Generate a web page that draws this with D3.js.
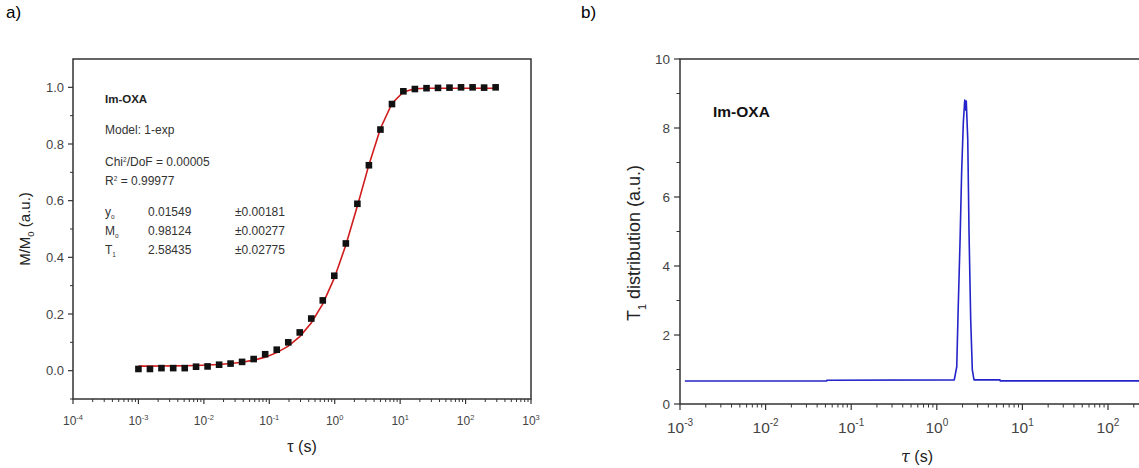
<!DOCTYPE html>
<html>
<head>
<meta charset="utf-8">
<script src="https://cdn.jsdelivr.net/npm/d3@7"></script>
<style>
  html, body { margin: 0; padding: 0; background: #fff; }
  svg { display: block; font-family: Arial, "Liberation Sans", sans-serif; }
</style>
</head>
<body>
<svg id="fig" width="1139" height="468"></svg>
<script>
// ---- panel a: saturation-recovery data and 1-exp fit ----
const recTau = [0.001, 0.0015, 0.00225, 0.0034, 0.0051, 0.0076, 0.0114, 0.0171, 0.0256, 0.0384,
                0.0577, 0.0865, 0.130, 0.195, 0.292, 0.438, 0.657, 0.985, 1.48, 2.22,
                3.33, 5.00, 7.50, 11.2, 16.8, 25.3, 37.9, 56.8, 85.2, 128, 192, 288];
const recMag = [0.006, 0.006, 0.009, 0.009, 0.009, 0.014, 0.015, 0.021, 0.025, 0.031,
                0.041, 0.058, 0.074, 0.100, 0.135, 0.184, 0.248, 0.335, 0.449, 0.589,
                0.725, 0.851, 0.941, 0.986, 0.994, 0.997, 0.998, 0.999, 1.000, 1.000, 0.999, 1.000];
// fitted parameters (as reported in the panel)
const fitNames  = ["y", "M", "T"];
const fitSubs   = ["o", "o", "1"];
const fitValues = [0.01549, 0.98124, 2.58435];
const fitErrors = ["±0.00181", "±0.00277", "±0.02775"];
const fitChi2 = "0.00005";
const fitR2 = "0.99977";

// ---- panel b: T1 distribution ----
const distTau = [0.00114, 0.0518, 0.0519, 1.60, 1.71, 1.78, 1.87, 1.95, 2.04, 2.12, 2.18, 2.21,
                 2.30, 2.38, 2.49, 2.60, 2.72, 5.47, 5.50, 1000];
const distVal = [0.667, 0.667, 0.69, 0.70, 1.08, 2.82, 4.75, 6.70, 8.14, 8.81, 8.52, 8.78,
                 7.65, 4.96, 2.43, 0.99, 0.70, 0.70, 0.67, 0.67];

// axis ticks
const aXTicks = [-4, -3, -2, -1, 0, 1, 2, 3];
const aYTicks = [0.0, 0.2, 0.4, 0.6, 0.8, 1.0];
const bXTicks = [-3, -2, -1, 0, 1, 2, 3];
const bYTicks = [0, 2, 4, 6, 8, 10];

const W = 1139;
const svg = d3.select("#fig");
const axisColor = "#333";
const labelColor = "#444";

function minorDecades(lo, hi) {
  const out = [];
  for (let e = lo; e < hi; e++) for (let m = 2; m <= 9; m++) out.push(m * Math.pow(10, e));
  return out;
}

function logTickLabel(sel, x, y, exp, size, supSize) {
  const t = sel.append("text").attr("x", x).attr("y", y)
    .attr("text-anchor", "middle").attr("fill", labelColor).attr("font-size", size);
  t.append("tspan").text("10");
  t.append("tspan").attr("dy", -size * 0.42).attr("font-size", supSize).text(exp < 0 ? "-" + (-exp) : String(exp));
}

// ================= panel a =================
{
  const L = 73, R = 531, T = 59, B = 399;
  const x = d3.scaleLog().domain([1e-4, 1e3]).range([L, R]);
  const y = d3.scaleLinear().domain([-0.1, 1.1]).range([B, T]);
  const g = svg.append("g");

  svg.append("text").attr("x", 6).attr("y", 18).attr("font-size", 17).attr("fill", "#000").text("a)");

  // x ticks
  const xg = g.append("g");
  xg.selectAll("line.maj").data(aXTicks).join("line")
    .attr("x1", d => x(Math.pow(10, d))).attr("x2", d => x(Math.pow(10, d)))
    .attr("y1", B).attr("y2", B + 5).attr("stroke", axisColor).attr("stroke-width", 1.2);
  xg.selectAll("line.min").data(minorDecades(-4, 3)).join("line")
    .attr("x1", d => x(d)).attr("x2", d => x(d))
    .attr("y1", B).attr("y2", B + 3).attr("stroke", axisColor).attr("stroke-width", 1);
  aXTicks.forEach(e => logTickLabel(xg, x(Math.pow(10, e)), 425, e, 12, 7.5));

  // y ticks
  const yg = g.append("g");
  yg.selectAll("line.maj").data(aYTicks).join("line")
    .attr("x1", L - 5).attr("x2", L).attr("y1", d => y(d)).attr("y2", d => y(d))
    .attr("stroke", axisColor).attr("stroke-width", 1.2);
  yg.selectAll("line.min").data([-0.1, 0.1, 0.3, 0.5, 0.7, 0.9]).join("line")
    .attr("x1", L - 3).attr("x2", L).attr("y1", d => y(d)).attr("y2", d => y(d))
    .attr("stroke", axisColor).attr("stroke-width", 1);
  yg.selectAll("text").data(aYTicks).join("text")
    .attr("x", L - 9).attr("y", d => y(d) + 4.5).attr("text-anchor", "end")
    .attr("font-size", 13).attr("fill", labelColor).text(d => d.toFixed(1));

  // fit curve evaluated at the measured delays
  const [y0, M0, T1] = fitValues;
  const fitLine = d3.line().x(d => x(d)).y(d => y(y0 + M0 * (1 - Math.exp(-d / T1))));
  g.append("path").datum(recTau).attr("d", fitLine)
    .attr("fill", "none").attr("stroke", "#d01c1c").attr("stroke-width", 1.6);

  // data squares
  g.selectAll("rect.pt").data(recTau).join("rect")
    .attr("x", d => x(d) - 3.3).attr("y", (d, i) => y(recMag[i]) - 3.3)
    .attr("width", 6.6).attr("height", 6.6).attr("fill", "#111");

  // frame
  g.append("rect").attr("x", L).attr("y", T).attr("width", R - L).attr("height", B - T)
    .attr("fill", "none").attr("stroke", axisColor).attr("stroke-width", 1.5);

  // axis titles
  const yl = g.append("text").attr("transform", `translate(30,${(T + B) / 2}) rotate(-90)`)
    .attr("text-anchor", "middle").attr("font-size", 15).attr("fill", "#222");
  yl.append("tspan").text("M/M");
  yl.append("tspan").attr("dy", 4).attr("font-size", 9.5).text("0");
  yl.append("tspan").attr("dy", -4).text(" (a.u.)");

  g.append("text").attr("x", 302).attr("y", 452).attr("text-anchor", "middle")
    .attr("font-size", 16).attr("fill", "#222").text("τ (s)");

  // fit report
  const tx = 105, fs = 12, tc = "#333";
  g.append("text").attr("x", tx).attr("y", 103).attr("font-size", 11.5).attr("font-weight", "bold")
    .attr("fill", "#222").text("Im-OXA");
  g.append("text").attr("x", tx).attr("y", 134).attr("font-size", fs).attr("fill", tc).text("Model: 1-exp");
  const c = g.append("text").attr("x", tx).attr("y", 166).attr("font-size", fs).attr("fill", tc);
  c.append("tspan").text("Chi");
  c.append("tspan").attr("dy", -4).attr("font-size", 6.5).text("2");
  c.append("tspan").attr("dy", 4).text("/DoF = " + fitChi2);
  const r = g.append("text").attr("x", tx).attr("y", 185).attr("font-size", fs).attr("fill", tc);
  r.append("tspan").text("R");
  r.append("tspan").attr("dy", -4).attr("font-size", 6.5).text("2");
  r.append("tspan").attr("dy", 4).text(" =  " + fitR2);
  const rowY = [216, 235, 254];
  fitNames.forEach((n, i) => {
    const t = g.append("text").attr("x", tx).attr("y", rowY[i]).attr("font-size", fs).attr("fill", tc);
    t.append("tspan").text(n);
    t.append("tspan").attr("dy", 3).attr("font-size", 6.5).text(fitSubs[i]);
    g.append("text").attr("x", 148).attr("y", rowY[i]).attr("font-size", fs).attr("fill", tc)
      .text(fitValues[i].toFixed(5));
    g.append("text").attr("x", 235).attr("y", rowY[i]).attr("font-size", fs).attr("fill", tc)
      .text(fitErrors[i]);
  });
}

// ================= panel b =================
{
  const L = 680, T = 59, B = 404;
  const x = d3.scaleLog().domain([1e-3, 1e3]).range([L, L + 6 * 85.6]);
  const y = d3.scaleLinear().domain([0, 10]).range([B, T]);
  const R = x(1e3);
  const g = svg.append("g");

  svg.append("text").attr("x", 581).attr("y", 18).attr("font-size", 17).attr("fill", "#000").text("b)");

  const xg = g.append("g");
  xg.selectAll("line.maj").data(bXTicks).join("line")
    .attr("x1", d => x(Math.pow(10, d))).attr("x2", d => x(Math.pow(10, d)))
    .attr("y1", B).attr("y2", B + 6).attr("stroke", axisColor).attr("stroke-width", 1.2);
  xg.selectAll("line.min").data(minorDecades(-3, 3)).join("line")
    .attr("x1", d => x(d)).attr("x2", d => x(d))
    .attr("y1", B).attr("y2", B + 3.5).attr("stroke", axisColor).attr("stroke-width", 1);
  // only the labels that fall inside the page
  bXTicks.filter(e => x(Math.pow(10, e)) + 20 < W)
    .forEach(e => logTickLabel(xg, x(Math.pow(10, e)), 433, e, 15.5, 10));

  const yg = g.append("g");
  yg.selectAll("line.maj").data(bYTicks).join("line")
    .attr("x1", L - 6).attr("x2", L).attr("y1", d => y(d)).attr("y2", d => y(d))
    .attr("stroke", axisColor).attr("stroke-width", 1.2);
  yg.selectAll("line.min").data([1, 3, 5, 7, 9]).join("line")
    .attr("x1", L - 3.5).attr("x2", L).attr("y1", d => y(d)).attr("y2", d => y(d))
    .attr("stroke", axisColor).attr("stroke-width", 1);
  yg.selectAll("text").data(bYTicks).join("text")
    .attr("x", L - 10).attr("y", d => y(d) + 5).attr("text-anchor", "end")
    .attr("font-size", 13.5).attr("fill", labelColor).text(d => d);

  svg.append("clipPath").attr("id", "bclip").append("rect")
    .attr("x", L).attr("y", T).attr("width", R - L).attr("height", B - T);
  const line = d3.line().x(d => x(d[0])).y(d => y(d[1]));
  g.append("path").datum(distTau.map((t, i) => [t, distVal[i]]))
    .attr("clip-path", "url(#bclip)").attr("d", line)
    .attr("fill", "none").attr("stroke", "#2424c8").attr("stroke-width", 1.6)
    .attr("stroke-linejoin", "round");

  g.append("rect").attr("x", L).attr("y", T).attr("width", R - L).attr("height", B - T)
    .attr("fill", "none").attr("stroke", axisColor).attr("stroke-width", 1.5);

  const yl = g.append("text").attr("transform", `translate(640,243) rotate(-90)`)
    .attr("text-anchor", "middle").attr("font-size", 18).attr("fill", "#222");
  yl.append("tspan").text("T");
  yl.append("tspan").attr("dy", 6).attr("font-size", 11).text("1");
  yl.append("tspan").attr("dy", -6).text(" distribution (a.u.)");

  const xl = g.append("text").attr("x", 917).attr("y", 462).attr("text-anchor", "middle")
    .attr("font-size", 16).attr("fill", "#222");
  xl.append("tspan").attr("font-style", "italic").attr("font-family", "'DejaVu Serif', serif").text("τ");
  xl.append("tspan").text(" (s)");

  g.append("text").attr("x", 713).attr("y", 117).attr("font-size", 15.5).attr("font-weight", "bold")
    .attr("fill", "#111").text("Im-OXA");
}
</script>
</body>
</html>
